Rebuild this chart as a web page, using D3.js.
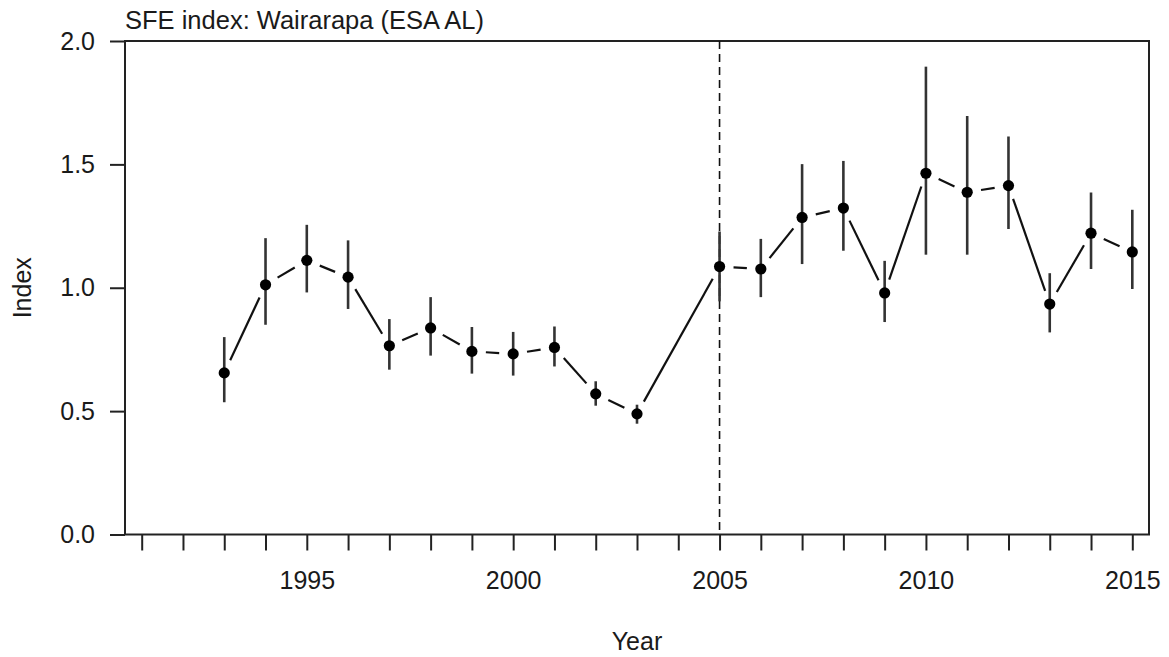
<!DOCTYPE html>
<html>
<head>
<meta charset="utf-8">
<script src="https://cdn.jsdelivr.net/npm/d3@7"></script>
<style>
  html, body { margin: 0; padding: 0; background: #fff; }
  svg { display: block; }
  text { font-family: "Liberation Sans", Arial, sans-serif; fill: #1a1a1a; }
</style>
</head>
<body>
<svg id="chart" width="1169" height="657"></svg>
<script>
// SFE index by year with confidence intervals
const years = [1993, 1994, 1995, 1996, 1997, 1998, 1999, 2000, 2001, 2002, 2003,
               2005, 2006, 2007, 2008, 2009, 2010, 2011, 2012, 2013, 2014, 2015];
const indexValues = [0.655, 1.012, 1.111, 1.043, 0.765, 0.837, 0.742, 0.732, 0.758, 0.570, 0.489,
                     1.086, 1.076, 1.285, 1.323, 0.979, 1.464, 1.387, 1.414, 0.934, 1.221, 1.145];
const lowerCI = [0.536, 0.850, 0.981, 0.914, 0.668, 0.725, 0.652, 0.644, 0.681, 0.522, 0.449,
                 0.945, 0.962, 1.096, 1.150, 0.861, 1.134, 1.134, 1.238, 0.819, 1.076, 0.995];
const upperCI = [0.800, 1.201, 1.255, 1.192, 0.873, 0.962, 0.841, 0.821, 0.843, 0.621, 0.526,
                 1.228, 1.198, 1.501, 1.514, 1.109, 1.896, 1.696, 1.613, 1.059, 1.386, 1.316];
const xTicks = d3.range(1991, 2016);
const xTickLabels = [1995, 2000, 2005, 2010, 2015];
const yTicks = [0.0, 0.5, 1.0, 1.5, 2.0];
const breakYear = 2005;
const title = "SFE index: Wairarapa (ESA AL)";

const svg = d3.select("#chart");
const box = { left: 125, right: 1149, top: 41, bottom: 534.5 };

const x = d3.scaleLinear().domain([1991, 2015]).range([141.7, 1132.3]);
const y = d3.scaleLinear().domain([0, 2]).range([box.bottom, box.top]);

const data = years.map((yr, i) => ({ year: yr, v: indexValues[i], lo: lowerCI[i], hi: upperCI[i] }));

const fontSize = 25;

// x axis
const xAxis = d3.axisBottom(x)
  .tickValues(xTicks)
  .tickSize(16)
  .tickPadding(21)
  .tickFormat(d => xTickLabels.includes(d) ? String(d) : "");
const gx = svg.append("g").attr("transform", `translate(0,${box.bottom})`).call(xAxis);
gx.select(".domain").remove();
gx.selectAll(".tick line").attr("stroke", "#222").attr("stroke-width", 2);
gx.selectAll(".tick text").attr("font-size", fontSize).attr("fill", "#1a1a1a")
  .style("font-family", '"Liberation Sans", Arial, sans-serif');

// y axis
const yAxis = d3.axisLeft(y)
  .tickValues(yTicks)
  .tickSize(15)
  .tickPadding(15)
  .tickFormat(d3.format(".1f"));
const gy = svg.append("g").attr("transform", `translate(${box.left},0)`).call(yAxis);
gy.select(".domain").remove();
gy.selectAll(".tick line").attr("stroke", "#222").attr("stroke-width", 2);
gy.selectAll(".tick text").attr("font-size", fontSize).attr("fill", "#1a1a1a")
  .style("font-family", '"Liberation Sans", Arial, sans-serif');

// plot frame
svg.append("rect")
  .attr("x", box.left).attr("y", box.top)
  .attr("width", box.right - box.left).attr("height", box.bottom - box.top)
  .attr("fill", "none").attr("stroke", "#222").attr("stroke-width", 2);

// reference line at the series break
svg.append("line")
  .attr("x1", x(breakYear)).attr("x2", x(breakYear))
  .attr("y1", box.top).attr("y2", box.bottom)
  .attr("stroke", "#111").attr("stroke-width", 1.6)
  .attr("stroke-dasharray", "8,5");

// error bars
svg.append("g").selectAll("line").data(data).join("line")
  .attr("x1", d => x(d.year)).attr("x2", d => x(d.year))
  .attr("y1", d => y(d.lo)).attr("y2", d => y(d.hi))
  .attr("stroke", "#333").attr("stroke-width", 2.6);

// connecting segments with a gap around each point
const gap = 14;
const segs = d3.pairs(data).map(([a, b]) => {
  const x1 = x(a.year), y1 = y(a.v), x2 = x(b.year), y2 = y(b.v);
  const len = Math.hypot(x2 - x1, y2 - y1);
  const ux = (x2 - x1) / len, uy = (y2 - y1) / len;
  return { x1: x1 + ux * gap, y1: y1 + uy * gap, x2: x2 - ux * gap, y2: y2 - uy * gap, ok: len > 2 * gap };
}).filter(s => s.ok);
svg.append("g").selectAll("line").data(segs).join("line")
  .attr("x1", d => d.x1).attr("y1", d => d.y1)
  .attr("x2", d => d.x2).attr("y2", d => d.y2)
  .attr("stroke", "#111").attr("stroke-width", 2.2);

// points
svg.append("g").selectAll("circle").data(data).join("circle")
  .attr("cx", d => x(d.year)).attr("cy", d => y(d.v))
  .attr("r", 5.6).attr("fill", "#000");

// title
svg.append("text")
  .attr("x", box.left).attr("y", 29)
  .attr("font-size", 25.5)
  .text(title);

// axis titles
svg.append("text")
  .attr("x", (box.left + box.right) / 2).attr("y", 650)
  .attr("text-anchor", "middle")
  .attr("font-size", fontSize)
  .text("Year");

svg.append("text")
  .attr("transform", `translate(31,${(box.top + box.bottom) / 2}) rotate(-90)`)
  .attr("text-anchor", "middle")
  .attr("font-size", fontSize)
  .text("Index");
</script>
</body>
</html>
